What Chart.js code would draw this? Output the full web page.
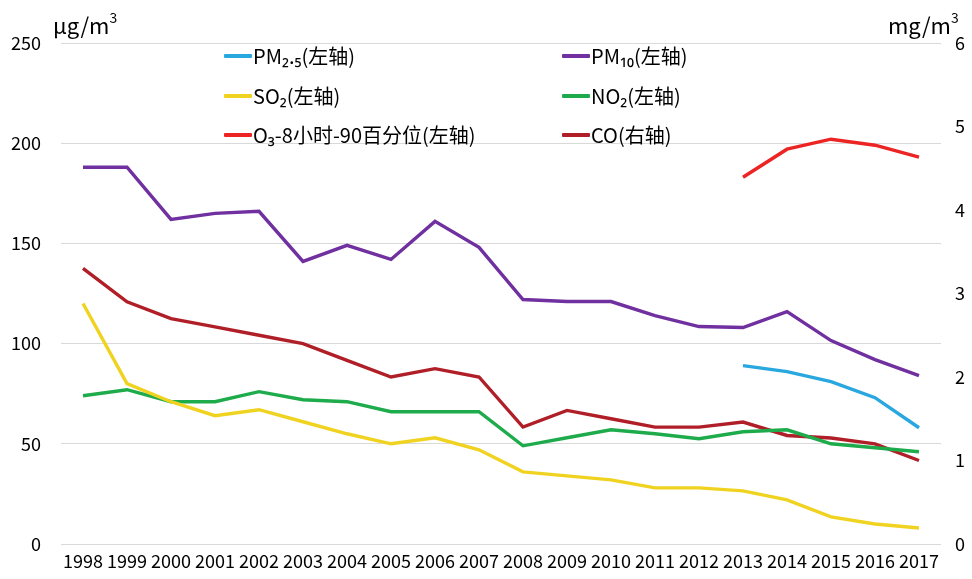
<!DOCTYPE html>
<html><head><meta charset="utf-8">
<script src="https://cdn.jsdelivr.net/npm/chart.js@4/dist/chart.umd.min.js"></script>
<style>
html,body{margin:0;padding:0;background:#fff;}
#wrap{position:relative;width:972px;height:579px;font-family:"Noto Sans CJK SC","Noto Sans",sans-serif;color:#000;}
canvas{position:absolute;left:0;top:0;}
.unit{position:absolute;font-size:22px;line-height:1;}
.unit sup{font-size:14px;vertical-align:top;position:relative;top:-3px;}
.lg{position:absolute;font-size:20px;line-height:1;display:flex;align-items:center;white-space:nowrap;}
.lg i{display:inline-block;width:28px;height:3.5px;margin-right:1px;border-radius:1px;}
</style></head>
<body>
<div id="wrap">
<canvas id="c" width="972" height="579"></canvas>
<div class="unit" style="left:53px;top:13px;">μg/m<sup>3</sup></div>
<div class="unit" style="left:888px;top:13px;">mg/m<sup>3</sup></div>
<div id="legend"></div>
</div>
<script>
const years = ["1998","1999","2000","2001","2002","2003","2004","2005","2006","2007","2008","2009","2010","2011","2012","2013","2014","2015","2016","2017"];
const pm25 = [null,null,null,null,null,null,null,null,null,null,null,null,null,null,null,89,86,81,73,58];
const pm10 = [188,188,162,165,166,141,149,142,161,148,122,121,121,114,108.5,108,116,101.5,92,84];
const so2  = [120,80,71,64,67,61,55,50,53,47,36,34,32,28,28,26.5,22,13.5,10,8];
const no2  = [74,77,71,71,76,72,71,66,66,66,49,53,57,55,52.5,56,57,50,48,46];
const o3   = [null,null,null,null,null,null,null,null,null,null,null,null,null,null,null,183,197,202,199,193];
const co   = [3.3,2.9,2.7,2.6,2.5,2.4,2.2,2.0,2.1,2.0,1.4,1.6,1.5,1.4,1.4,1.46,1.3,1.27,1.2,1.0];
const leftTicks = [0,50,100,150,200,250];
const rightTicks = [0,1,2,3,4,5,6];

const series = [
  {label:"PM₂.₅(左轴)", data:pm25, color:"#29A8E0", axis:"y", lx:224, ly:56},
  {label:"PM₁₀(左轴)", data:pm10, color:"#7030A0", axis:"y", lx:562, ly:56},
  {label:"SO₂(左轴)", data:so2, color:"#F0D321", axis:"y", lx:224, ly:96},
  {label:"NO₂(左轴)", data:no2, color:"#1EAB4B", axis:"y", lx:562, ly:96},
  {label:"O₃-8小时-90百分位(左轴)", data:o3, color:"#EC2424", axis:"y", lx:224, ly:135},
  {label:"CO(右轴)", data:co, color:"#B01F27", axis:"y2", lx:562, ly:135}
];
const lg = document.getElementById('legend');
series.forEach(s=>{
  const d=document.createElement('div');d.className='lg';
  d.style.left=s.lx+'px';d.style.top=(s.ly-12)+'px';d.style.height='24px';
  d.innerHTML='<i style="background:'+s.color+'"></i><span>'+s.label+'</span>';
  lg.appendChild(d);
});

const tickFont = {family:'"Noto Sans CJK SC","Noto Sans",sans-serif', size:18};
new Chart(document.getElementById('c'),{
  type:'line',
  data:{labels:years,datasets:series.map(s=>({label:s.label,data:s.data,borderColor:s.color,backgroundColor:s.color,borderWidth:3.4,pointRadius:0,tension:0,yAxisID:s.axis,spanGaps:false}))},
  options:{
    responsive:false,animation:false,
    layout:{padding:{top:43,left:0,right:0,bottom:0}},
    plugins:{legend:{display:false},tooltip:{enabled:false}},
    scales:{
      x:{offset:true,grid:{display:false,drawTicks:false},border:{display:false},
         ticks:{autoSkip:false,maxRotation:0,minRotation:0,color:'#000',font:tickFont,padding:6},
         afterFit(a){a.height=35;}},
      y:{position:'left',min:0,max:250,
         afterBuildTicks(a){a.ticks=leftTicks.map(v=>({value:v}));},
         grid:{color:'#D9D9D9',lineWidth:1,drawTicks:false},border:{display:false},
         ticks:{color:'#000',font:tickFont,padding:20},
         afterFit(a){a.width=61;}},
      y2:{position:'right',min:0,max:6,
         afterBuildTicks(a){a.ticks=rightTicks.map(v=>({value:v}));},
         grid:{display:false,drawTicks:false},border:{display:false},
         ticks:{color:'#000',font:tickFont,padding:14},
         afterFit(a){a.width=31;}}
    }
  }
});
</script>
</body></html>
